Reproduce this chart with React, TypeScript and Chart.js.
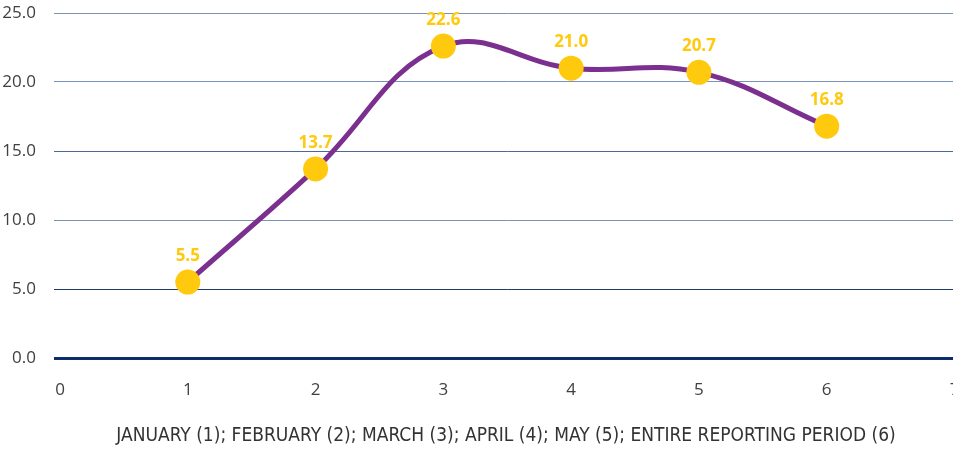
import React, { useEffect, useRef } from "react";
import { Chart, registerables } from "chart.js";

Chart.register(...registerables);

const xValues = [1, 2, 3, 4, 5, 6];
const yValues = [5.5, 13.7, 22.6, 21.0, 20.7, 16.8];
const axisTitle = "JANUARY (1); FEBRUARY (2); MARCH (3); APRIL (4); MAY (5); ENTIRE REPORTING PERIOD (6)";

const LINE = "#7B2F8F";
const POINT = "#FFC90E";

const labelPlugin = {
  id: "valueLabels",
  afterDatasetsDraw(chart: any) {
    const ctx = chart.ctx;
    const meta = chart.getDatasetMeta(0);
    ctx.save();
    ctx.font = "bold 17px 'Open Sans', sans-serif";
    ctx.fillStyle = POINT;
    ctx.textAlign = "center";
    ctx.textBaseline = "middle";
    meta.data.forEach((el: any, i: number) => {
      ctx.fillText(yValues[i].toFixed(1), el.x, el.y - 26);
    });
    ctx.restore();
  },
};

const titlePlugin = {
  id: "condensedTitle",
  afterDraw(chart: any) {
    const ctx = chart.ctx;
    const area = chart.chartArea;
    ctx.save();
    ctx.font = "19px 'Liberation Sans Narrow', 'DejaVu Sans', sans-serif";
    try {
      (ctx as any).fontStretch = "condensed";
    } catch (e) {}
    ctx.fillStyle = "#333333";
    ctx.textAlign = "center";
    ctx.textBaseline = "middle";
    ctx.fillText(axisTitle, 506, chart.height - 15);
    ctx.restore();
  },
};

export default function App() {
  const ref = useRef<HTMLCanvasElement>(null);
  useEffect(() => {
    document.body.style.margin = "0";
    const chart = new Chart(ref.current as HTMLCanvasElement, {
      type: "line",
      data: {
        datasets: [
          {
            data: xValues.map((x, i) => ({ x, y: yValues[i] })),
            borderColor: LINE,
            borderWidth: 5,
            tension: 0.4,
            pointRadius: 12.5,
            pointHoverRadius: 12.5,
            pointBackgroundColor: POINT,
            pointBorderColor: POINT,
            pointBorderWidth: 0,
          },
        ],
      },
      options: {
        responsive: false,
        animation: false,
        layout: { padding: { top: 13, left: 0, right: 1, bottom: 0 } },
        plugins: { legend: { display: false }, tooltip: { enabled: false } },
        scales: {
          x: {
            type: "linear",
            min: 0,
            max: 7,
            grid: { display: false },
            border: { display: false },
            ticks: {
              stepSize: 1,
              padding: 14,
              color: "#404040",
              font: { family: "'Open Sans', sans-serif", size: 17 },
              maxRotation: 0,
            },
            afterFit: (s: any) => {
              s.height = 93;
              s.paddingLeft = 0;
              s.paddingRight = 0;
            },
          },
          y: {
            min: 0,
            max: 25,
            border: { display: false },
            grid: {
              tickLength: 6,
              color: (c: any) => {
                const v = c.tick ? c.tick.value : 0;
                if (v === 0) return "#0B2D6B";
                if (v === 5) return "#1F3A6B";
                if (v === 15) return "#4D6898";
                return "#7A92B8";
              },
              lineWidth: (c: any) => (c.tick && c.tick.value === 0 ? 3 : 1),
            },
            ticks: {
              stepSize: 5,
              padding: 18,
              color: "#404040",
              font: { family: "'Open Sans', sans-serif", size: 17 },
              callback: (v: any) => Number(v).toFixed(1),
            },
            afterFit: (s: any) => {
              s.width = 60;
              s.paddingTop = 0;
              s.paddingBottom = 0;
            },
          },
        },
      },
      plugins: [labelPlugin, titlePlugin],
    });
    return () => chart.destroy();
  }, []);
  return (
    <div style={{ width: 953, height: 451, overflow: "hidden", background: "#fff" }}>
      <canvas ref={ref} width={967} height={451} style={{ display: "block" }} />
    </div>
  );
}
